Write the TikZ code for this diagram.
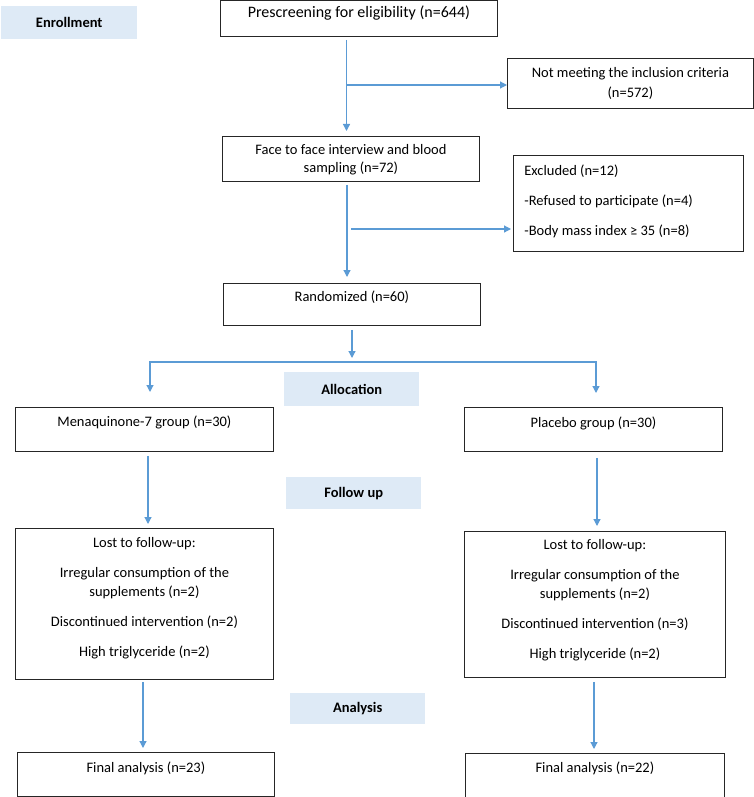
\documentclass[tikz,border=0pt]{standalone}
\usepackage{fontspec}
\setmainfont{Carlito}
\usetikzlibrary{arrows.meta}
\definecolor{arrowc}{HTML}{5B9BD5}
\definecolor{labelc}{HTML}{DEEAF6}
\definecolor{boxc}{HTML}{262626}
% W, H, top pad, text  (centred)
\newcommand{\bxc}[4]{\parbox[t][#2pt][t]{#1pt}{\centering\vspace*{#3pt}#4}}
% W, H, top pad, text  (left aligned)
\newcommand{\bxl}[4]{\parbox[t][#2pt][t]{#1pt}{\raggedright\vspace*{#3pt}#4}}
\newcommand{\sst}{\rule{0pt}{12pt}}
\newcommand{\fs}[1]{\fontsize{14.5}{#1}\selectfont}
\begin{document}
\begin{tikzpicture}[x=1pt,y=-1pt,
  box/.style={draw=boxc, line width=0.8pt, inner sep=0pt, anchor=north west},
  lab/.style={fill=labelc, inner sep=0pt, anchor=north west,
              font=\fontsize{14.5}{17}\selectfont\bfseries, align=center},
  arr/.style={draw=arrowc, line width=1.2pt, -{Triangle[width=7pt,length=7pt]}},
  darr/.style={draw=arrowc, line width=1.2pt,
               {Triangle[width=7pt,length=7pt]}-{Triangle[width=7pt,length=7pt]}}]
\useasboundingbox (0,0) rectangle (754,797);

% phase labels
\node[lab, minimum width=136pt, minimum height=33pt] (enr) at (1,6) {Enrollment};
\node[lab, minimum width=135pt, minimum height=34pt] (alloc) at (284,372) {Allocation};
\node[lab, minimum width=135pt, minimum height=32pt] (fol) at (286,477) {Follow up};
\node[lab, minimum width=135pt, minimum height=31pt] (ana) at (290,693) {Analysis};

% boxes
\node[box] (pre) at (220,0.5) {\bxc{277}{35.5}{5}{\fontsize{16}{18}\selectfont\sst Prescreening for eligibility (n=644)}};
\node[box] (nm) at (507,58) {\bxc{246}{50}{7.5}{\fs{20}\sst Not meeting the inclusion criteria\\(n=572)}};
\node[box] (face) at (222,136) {\bxc{257}{45}{6.5}{\fs{18}\sst Face to face interview and blood\\sampling (n=72)}};
\node[box] (ex) at (513,155) {\bxl{230}{96}{8.5}{\fs{30}\leftskip=11pt\sst Excluded (n=12)\\-Refused to participate (n=4)\\-Body mass index ≥ 35 (n=8)}};
\node[box] (rand) at (223,283) {\bxc{257}{42}{6.5}{\fs{18}\sst Randomized (n=60)}};
\node[box] (mq) at (15,407) {\bxc{258}{44}{7.5}{\fs{18}\sst Menaquinone-7 group (n=30)}};
\node[box] (pl) at (464,407) {\bxc{258}{44}{8.5}{\fs{18}\sst Placebo group (n=30)}};
\node[box] (lL) at (15,528) {\bxc{258}{151}{7.5}{\fs{19}\sst Lost to follow-up:\\[11pt]Irregular consumption of the\\supplements (n=2)\\[11pt]Discontinued intervention (n=2)\\[11pt]High triglyceride (n=2)}};
\node[box] (lR) at (464,531) {\bxc{261}{146}{6.5}{\fs{19}\sst Lost to follow-up:\\[11pt]Irregular consumption of the\\supplements (n=2)\\[11pt]Discontinued intervention (n=3)\\[11pt]High triglyceride (n=2)}};
\node[box] (fL) at (17,752) {\bxc{257}{44}{8.5}{\fs{18}\sst Final analysis (n=23)}};
\node[box] (fR) at (465,753) {\bxc{259}{44}{7.5}{\fs{18}\sst Final analysis (n=22)}};

% connector columns and branch points
\coordinate (c1) at (346.5,0);
\coordinate (b1) at (346.5,85);
\coordinate (c2) at (347,0);
\coordinate (b2) at (351,229);
\coordinate (sM) at (352,362);
\coordinate (sL) at (150,362);
\coordinate (sR) at (596,362);
\coordinate (cL1) at (148,0);
\coordinate (cR1) at (597,0);
\coordinate (cL2) at (143,0);
\coordinate (cR2) at (594,0);

\draw[arr, shorten <=3pt, shorten >=5pt] (pre.south -| c1) -- (face.north -| c1);
\draw[arr] (b1) -- (nm.west |- b1);
\draw[arr, shorten <=3pt, shorten >=6pt] (face.south -| c2) -- (rand.north -| c2);
\draw[arr, shorten >=2pt] (b2) -- (ex.west |- b2);
\draw[arr, shorten <=4pt, shorten >=4pt] (rand.south -| sM) -- (sM);
\draw[darr, shorten <=15pt, shorten >=14pt] (mq.north -| sL) -- (sL) -- (sR) -- (pl.north -| sR);
\draw[arr, shorten <=4pt, shorten >=4pt] (mq.south -| cL1) -- (lL.north -| cL1);
\draw[arr, shorten <=6pt, shorten >=5pt] (pl.south -| cR1) -- (lR.north -| cR1);
\draw[arr, shorten <=2pt, shorten >=4pt] (lL.south -| cL2) -- (fL.north -| cL2);
\draw[arr, shorten <=4pt, shorten >=4pt] (lR.south -| cR2) -- (fR.north -| cR2);
\end{tikzpicture}
\end{document}
